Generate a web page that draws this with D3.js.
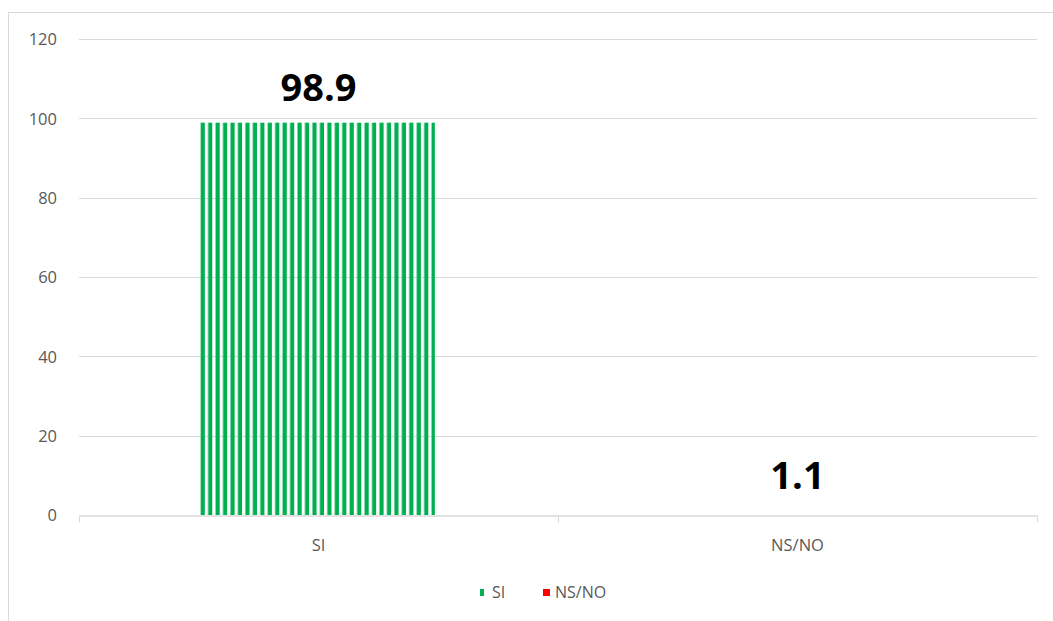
<!DOCTYPE html>
<html>
<head>
<meta charset="utf-8">
<script src="https://cdn.jsdelivr.net/npm/d3@7"></script>
<style>
  body { margin: 0; background: #fff; }
  svg { display: block; font-family: "Open Sans", "Liberation Sans", sans-serif; }
</style>
</head>
<body>
<script>
// data
var categories = ["SI", "NS/NO"];
var values = [98.9, 1.1];
var yTicks = [0, 20, 40, 60, 80, 100, 120];
var colors = ["#00B050", "#FF0000"];

var width = 1053,
    height = 621;

var margin = {top: 39, right: 16, bottom: 106, left: 79};

var svg = d3.select("body").append("svg")
    .attr("width", width)
    .attr("height", height);

// chart border
svg.append("rect")
    .attr("x", 8.5).attr("y", 12.5)
    .attr("width", 1100).attr("height", 700)
    .attr("fill", "none")
    .attr("stroke", "#d9d9d9");

var x = d3.scaleBand()
    .domain(categories)
    .range([margin.left, width - margin.right])
    .paddingInner(0.51)
    .paddingOuter(0.255);

var y = d3.scaleLinear()
    .domain([0, 120])
    .range([height - margin.bottom, margin.top]);

// stripe pattern for the bars
var defs = svg.append("defs");
colors.forEach(function(c, i) {
  var p = defs.append("pattern")
      .attr("id", "stripes" + i)
      .attr("patternUnits", "userSpaceOnUse")
      .attr("x", x(categories[i]) - 1)
      .attr("width", 7.45)
      .attr("height", 10);
  p.append("rect")
      .attr("x", 0.5).attr("width", 4.2).attr("height", 10)
      .attr("fill", c);
});

// gridlines
svg.append("g")
  .selectAll("line")
  .data(yTicks.filter(function(d) { return d > 0; }))
  .enter().append("line")
    .attr("x1", margin.left)
    .attr("x2", width - margin.right)
    .attr("y1", function(d) { return Math.round(y(d)) + 0.5; })
    .attr("y2", function(d) { return Math.round(y(d)) + 0.5; })
    .attr("stroke", "#d9d9d9");

// y axis labels
var yAxis = svg.append("g")
    .attr("transform", "translate(" + margin.left + ",0.5)")
    .call(d3.axisLeft(y).tickValues(yTicks).tickSize(0).tickPadding(22));
yAxis.select(".domain").remove();
yAxis.selectAll("text")
    .attr("fill", "#595959")
    .style("font-size", "16.5px")
    .style("font-family", "'Open Sans', sans-serif");

// x axis
var xAxis = svg.append("g")
    .attr("transform", "translate(0," + (Math.round(y(0)) + 0.5) + ")")
    .call(d3.axisBottom(x).tickSize(0).tickPadding(24));
xAxis.select(".domain").attr("stroke", "#d9d9d9").attr("stroke-width", 1.5);
xAxis.selectAll("text")
    .attr("fill", "#595959")
    .style("font-size", "16.5px")
    .style("font-family", "'Open Sans', sans-serif");

// category separators on the x axis
var bounds = [margin.left, (margin.left + width - margin.right) / 2, width - margin.right];
xAxis.selectAll(".sep")
  .data(bounds)
  .enter().append("line")
    .attr("class", "sep")
    .attr("x1", function(d) { return Math.round(d) + 0.5; })
    .attr("x2", function(d) { return Math.round(d) + 0.5; })
    .attr("y1", 0).attr("y2", 7)
    .attr("stroke", "#d9d9d9");

// bars
svg.append("g")
  .selectAll("rect")
  .data(values)
  .enter().append("rect")
    .attr("x", function(d, i) { return x(categories[i]) - 1; })
    .attr("width", x.bandwidth())
    .attr("y", function(d) { return y(d); })
    .attr("height", function(d) { return y(0) - y(d); })
    .attr("fill", function(d, i) { return "url(#stripes" + i + ")"; })
    // the tiny NS/NO bar does not show up in the original
    .attr("opacity", function(d) { return d < 5 ? 0 : 1; });

// value labels
svg.append("g")
  .selectAll("text")
  .data(values)
  .enter().append("text")
    .attr("x", function(d, i) { return x(categories[i]) + x.bandwidth() / 2; })
    .attr("y", function(d) { return y(d) - 22; })
    .attr("text-anchor", "middle")
    .style("font-size", "38px")
    .style("font-weight", "bold")
    .attr("fill", "#000")
    .text(function(d) { return d.toFixed(1); });

// legend
var legend = svg.append("g")
    .attr("transform", "translate(480,592)");
var items = [{x: 0, tx: 12}, {x: 63, tx: 75}];
categories.forEach(function(c, i) {
  legend.append("rect")
      .attr("x", items[i].x).attr("y", -3)
      .attr("width", i === 0 ? 4 : 7).attr("height", 7)
      .attr("fill", colors[i]);
  legend.append("text")
      .attr("x", items[i].tx)
      .attr("y", 6)
      .attr("fill", "#595959")
      .style("font-size", "16px")
      .text(c);
});
</script>
</body>
</html>
